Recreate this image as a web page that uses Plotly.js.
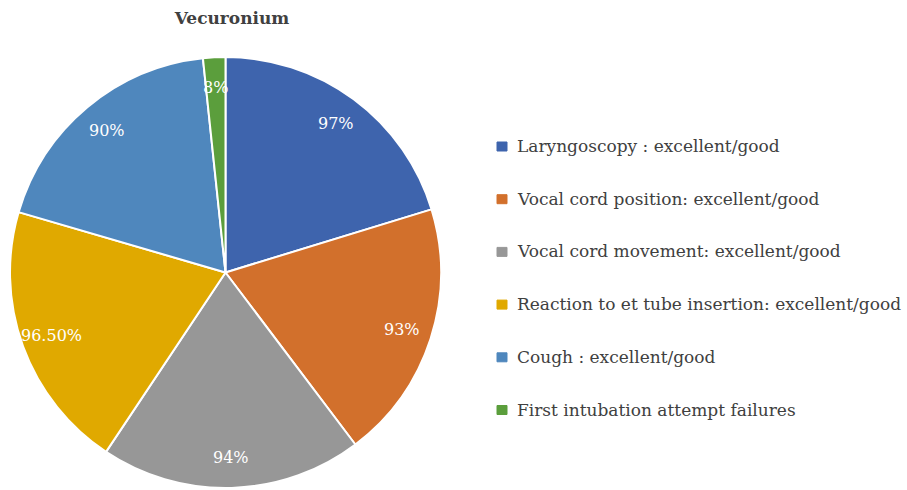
<!DOCTYPE html>
<html><head><meta charset="utf-8">
<script src="https://cdn.plot.ly/plotly-3.0.1.min.js"></script>
<style>html,body{margin:0;padding:0;background:#fff}#chart{width:907px;height:490px}</style>
</head><body><div id="chart"></div>
<script>
const labels = ["Laryngoscopy : excellent/good","Vocal cord position: excellent/good","Vocal cord movement: excellent/good","Reaction to et tube insertion: excellent/good","Cough : excellent/good","First intubation attempt failures"];
const values = [97, 93, 94, 96.5, 90, 8];
const valueText = ["97%","93%","94%","96.50%","90%","8%"];
const colors = ["#3E64AD","#D2702C","#979797","#E0A900","#4F87BD","#5B9E3C"];
const titleText = "Vecuronium";

const W = 907, H = 490;
const cx = 225.5, cy = 272.5, r = 215.5;
const FONT = "'Palatino Linotype','Book Antiqua',Palatino,'DejaVu Serif',serif";

const annotations = [];
const shapes = [];
const total = values.reduce((a,b)=>a+b,0);
let cum = 0;
values.forEach((v,i)=>{
  const mid = (cum + v/2)/total*2*Math.PI;
  cum += v;
  const d = r*0.86;
  const px = cx + d*Math.sin(mid), py = cy - d*Math.cos(mid);
  annotations.push({x:px/W, y:1-py/H, xref:'paper', yref:'paper', text:valueText[i], showarrow:false,
    font:{family:FONT, size:16, color:'#ffffff'}, xanchor:'center', yanchor:'middle'});
});
labels.forEach((l,i)=>{
  const yc = 146 + i*52.7;
  shapes.push({type:'rect', xref:'paper', yref:'paper', x0:497/W, x1:507/W, y0:1-(yc-4)/H, y1:1-(yc+5)/H,
    fillcolor:colors[i], line:{color:colors[i], width:1}});
  annotations.push({x:515/W, y:1-yc/H, xref:'paper', yref:'paper', text:l, showarrow:false,
    font:{family:FONT, size:17, color:'#404040'}, xanchor:'left', yanchor:'middle'});
});

const data = [{
  type:'pie', labels:labels, values:values, sort:false, direction:'clockwise', rotation:0,
  marker:{colors:colors, line:{color:'#ffffff', width:2}},
  textinfo:'none', hoverinfo:'label+value', showlegend:false,
  domain:{x:[(cx-r)/W,(cx+r)/W], y:[1-(cy+r)/H, 1-(cy-r)/H]}
}];
const layout = {
  width:W, height:H, margin:{l:0,r:0,t:0,b:0}, paper_bgcolor:'#fff', showlegend:false,
  title:{text:'<b>'+titleText+'</b>', x:232/W, xanchor:'center', y:1-18/H, yanchor:'middle',
    font:{family:FONT, size:17, color:'#404040'}},
  annotations:annotations, shapes:shapes
};
Plotly.newPlot('chart', data, layout, {displayModeBar:false, staticPlot:true});
</script></body></html>
